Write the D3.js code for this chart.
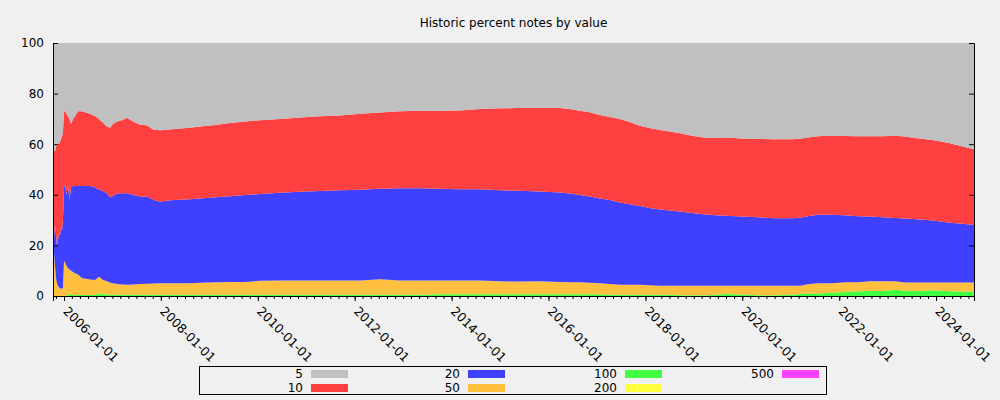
<!DOCTYPE html>
<html><head><meta charset="utf-8">
<script src="https://cdn.jsdelivr.net/npm/d3@7"></script>
<style>
html,body{margin:0;padding:0;background:#f0f0f0;}
svg{display:block;font-family:"DejaVu Sans",sans-serif;}
</style></head>
<body>
<svg id="chart" width="1000" height="400"></svg>
<script>
const title = "Historic percent notes by value";
const dates = ["2005-10-14","2005-10-18","2005-10-25","2005-11-02","2005-11-09","2005-11-17","2005-11-24","2005-12-02","2005-12-09","2005-12-17","2005-12-24",
"2006-01-01","2006-01-09","2006-01-20","2006-01-31","2006-02-11","2006-02-23","2006-03-10","2006-03-25","2006-04-17","2006-05-17","2006-06-16","2006-07-16","2006-08-23","2006-09-22","2006-10-22","2006-11-21","2006-12-14",
"2007-01-05","2007-02-05","2007-03-14","2007-04-21","2007-06-05","2007-07-28","2007-09-19","2007-11-03","2007-12-26",
"2008-03-10","2008-05-25","2008-08-08","2008-10-22","2009-02-15","2009-06-06","2009-09-27","2010-01-18","2010-06-18","2010-11-16",
"2011-04-15","2011-09-13","2012-02-11","2012-07-11","2012-12-08","2013-05-08","2013-10-06","2014-03-06","2014-08-03","2014-12-31",
"2015-05-31","2015-10-28","2016-03-27","2016-06-10","2016-08-25","2016-11-08","2017-01-22","2017-04-08","2017-06-22","2017-09-06","2017-11-20",
"2018-02-03","2018-04-20","2018-07-04","2018-09-18","2018-12-17","2019-04-17","2019-08-23","2019-12-29","2020-04-28","2020-09-03",
"2021-01-09","2021-03-10","2021-05-10","2021-07-24","2021-11-07","2022-02-13","2022-05-22","2022-08-20","2022-11-26",
"2023-02-25","2023-05-11","2023-08-10","2023-12-08","2024-04-15","2024-07-21","2024-10-13"];

const s5 = [40,42,43,40,41,39,40,39,38,37,35,
27,27,28,29,30,32,30,29,27,27,27.5,28,29,30,31.5,33,33.5,
32,31,30.5,29.5,31,32.3,32.5,34.2,34.5,
34.2,33.8,33.5,33,32.4,31.6,31,30.5,30,29.4,
29,28.7,28,27.5,27,26.8,26.8,26.7,26.1,25.8,
25.7,25.7,25.7,26.1,26.8,27.4,28.5,29.2,30,31.2,32.7,
33.6,34.4,35,35.7,36.7,37.5,37.4,37.7,37.9,38,
38,37.8,37.4,36.9,36.6,36.8,36.9,36.9,36.9,
36.7,37,37.6,38.3,39.6,40.9,42];
const s10 = [39,35,29,36,39,39,35,37,35,37,35,
30,29,32,27,32,25,26.5,27.5,29.5,29.5,29,28.5,28,28,27,26.5,27.5,
28.5,28.5,28.9,29.9,29,28.4,28.2,27.8,28.2,
28,28.2,28.3,28.5,28.6,29,29.1,29.2,29.2,29.4,
29.5,29.5,30,30.1,30.4,30.6,30.8,31.1,31.7,32.4,
32.7,33,33.4,33.4,33.3,33.3,33,32.9,33,32.5,31.7,
31.6,31.4,31.2,30.9,30.5,30.4,30.9,30.9,31,31.3,
31.3,31.3,31.1,31,31.3,31.3,31.6,31.7,32,
32.5,32.4,32.1,31.9,31.4,30.5,29.9];
const s20 = [2,6,16,17,15,18,21.5,21,24,23,27,
29,31,28,33,27.5,33,34,34.5,35,36.5,36.7,37,36.7,34.4,35.2,34.7,33.7,
34.5,35.8,36.1,36.2,35.5,34.6,34.5,33.1,32.3,
32.8,33,33.2,33.3,33.6,33.9,34.4,34.3,34.7,35.1,
35.4,35.7,35.9,35.8,36.5,36.5,36.3,36.1,36.1,36,
35.9,35.5,35.4,35.1,34.5,34.1,33.5,33.2,32.6,31.9,31.2,
30.6,30.1,29.7,29.3,28.7,28,27.6,27.3,27,26.6,
26.6,26.8,26.9,27.1,27.1,26.5,26.1,25.6,25.3,
25,25.3,25,24.5,23.7,23.3,22.8];
const s50 = [19,17,12,7,5,4,3.5,3,3,3,3,
14,13,12,10.2,9.7,9.6,9.1,8.6,8.1,6.6,6.4,6.1,5.9,6.6,5.4,5.3,4.8,
4.5,4.2,4,3.9,4,4.2,4.3,4.4,4.5,
4.5,4.5,4.5,4.7,4.9,5,5,5.5,5.6,5.6,
5.6,5.6,5.6,6.1,5.6,5.6,5.4,5.4,5.4,5.1,
5,5.1,4.8,4.7,4.7,4.5,4.3,4.2,3.9,3.9,3.9,
3.7,3.6,3.6,3.8,3.8,3.8,3.3,3.5,3.8,3.8,
3.6,3.3,3.6,4,3.7,3.8,3.5,3.8,3.8,
3.3,3.2,3.3,3,3.4,3.5,3.5];
const s100 = [0,0,0,0,0,0,0,0,0,0,0,
0,0,0,0.8,0.8,0.4,0.4,0.4,0.4,0.4,0.4,0.4,0.4,1.0,0.9,0.5,0.5,
0.5,0.5,0.5,0.5,0.5,0.5,0.5,0.5,0.5,
0.5,0.5,0.5,0.5,0.5,0.5,0.5,0.5,0.5,0.5,
0.5,0.5,0.5,0.5,0.5,0.5,0.7,0.7,0.7,0.7,
0.7,0.7,0.7,0.7,0.7,0.7,0.7,0.5,0.5,0.5,0.5,
0.5,0.5,0.5,0.3,0.3,0.3,0.8,0.6,0.3,0.3,
0.5,0.8,1,1,1.3,1.6,1.9,2,2,
2.5,2.1,2,2.3,1.9,1.8,1.8];
const s200 = [0,0,0,0,0,0,0,0,0,0,0,0,0,0,0,0,0,0,0,0,0,0,0,0,0,0,0,0,0,0,0,0,0,0,0,0,0,0,0,0,0,0,0,0,0,0,0,
0,0,0,0,0,0,0,0,0,0,0,0,0,0,0,0,0,0,0,0,0,0,0,0,0,0,0,0,0,0,0,0,0,0,0,0,0,0,0,0,0,0,0,0,0,0,0,0];
const s500 = [0,0,0,0,0,0,0,0,0,0,0,0,0,0,0,0,0,0,0,0,0,0,0,0,0,0,0,0,0,0,0,0,0,0,0,0,0,0,0,0,0,0,0,0,0,0,0,
0,0,0,0,0,0,0,0,0,0,0,0,0,0,0,0,0,0,0,0,0,0,0,0,0,0,0,0,0,0,0,0,0,0,0,0,0,0,0,0,0,0,0,0,0,0,0,0];

const seriesKeys = ["5","10","20","50","100","200","500"];
const seriesColors = ["#c0c0c0","#ff4040","#4040ff","#ffc040","#40ff40","#ffff40","#ff40ff"];
const seriesValues = [s5, s10, s20, s50, s100, s200, s500];
const yTicks = [0,20,40,60,80,100];

const parse = d3.timeParse("%Y-%m-%d");
const table = dates.map((d, i) => {
  const row = {date: parse(d)};
  seriesKeys.forEach((k, j) => row[k] = seriesValues[j][i] || 0);
  return row;
});

const svg = d3.select("#chart");
const L = 53, R = 974, T = 43, B = 296;

const x = d3.scaleTime().domain([parse("2005-10-10"), parse("2024-10-13")]).range([L, R]);
const y = d3.scaleLinear().domain([0, 100]).range([B, T]);

const stackOrder = seriesKeys.slice().reverse(); // bottom: 500 ... top: 5
const stacked = d3.stack().keys(stackOrder)(table);
const color = d3.scaleOrdinal().domain(seriesKeys).range(seriesColors);

const area = d3.area()
  .x(d => x(d.data.date))
  .y0(d => y(d[0]))
  .y1(d => y(d[1]))
  .curve(d3.curveLinear);

svg.append("g").selectAll("path").data(stacked).join("path")
  .attr("d", area)
  .attr("fill", d => color(d.key));

// title
svg.append("text").attr("x", (L + R) / 2).attr("y", 27)
  .attr("text-anchor", "middle").attr("font-size", 12).attr("fill", "#000").text(title);

// axes
const fmt = d3.timeFormat("%Y-%m-%d");
const minor = svg.append("g").attr("transform", `translate(0,${B})`)
  .call(d3.axisBottom(x).ticks(d3.timeMonth.every(2)).tickSize(3).tickFormat(""));
minor.select(".domain").remove();

const major = svg.append("g").attr("transform", `translate(0,${B})`)
  .call(d3.axisBottom(x).ticks(d3.timeYear.every(2)).tickSize(5).tickFormat(fmt));
major.select(".domain").attr("stroke", "#000");
major.selectAll("text")
  .attr("font-size", 12.4).attr("font-family", "DejaVu Sans").attr("fill", "#000")
  .attr("text-anchor", "start")
  .attr("transform", "translate(5,9) rotate(45)")
  .attr("x", 0).attr("y", 0).attr("dy", "0.8em");

const left = svg.append("g").attr("transform", `translate(${L},0)`)
  .call(d3.axisLeft(y).tickValues(yTicks).tickSize(-5).tickPadding(9));
left.selectAll("text").attr("font-size", 12).attr("font-family", "DejaVu Sans").attr("fill", "#000");
left.select(".domain").attr("stroke", "#000");

const right = svg.append("g").attr("transform", `translate(${R},0)`)
  .call(d3.axisRight(y).tickValues(yTicks).tickSize(-5).tickFormat(""));
right.select(".domain").attr("stroke", "#000");

// legend
const legend = svg.append("g");
legend.append("rect").attr("x", 199.5).attr("y", 366.5).attr("width", 627).attr("height", 28)
  .attr("fill", "none").attr("stroke", "#000");
const colEnds = [303, 460, 617, 774];
const rowY = [374, 388];
seriesKeys.forEach((k, i) => {
  const c = Math.floor(i / 2), r = i % 2;
  legend.append("text").attr("x", colEnds[c]).attr("y", rowY[r]).attr("dy", "0.35em")
    .attr("text-anchor", "end").attr("font-size", 12).attr("fill", "#000").text(k);
  legend.append("rect").attr("x", colEnds[c] + 8).attr("y", rowY[r] - 4)
    .attr("width", 37).attr("height", 8).attr("fill", color(k));
});
</script>
</body></html>
